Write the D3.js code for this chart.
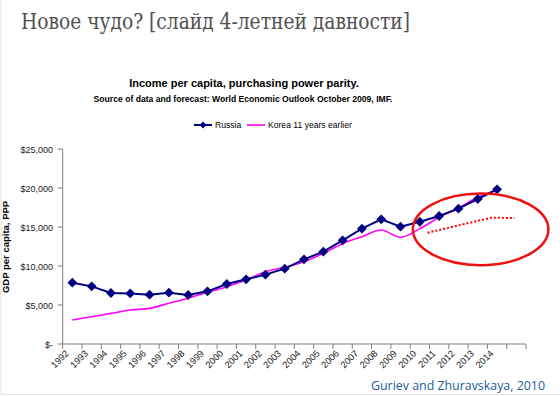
<!DOCTYPE html>
<meta charset="utf-8">
<style>

body {
  margin: 0;
  background-color: white;
  overflow: hidden;
}

text {
  font-family: Arial, "Liberation Sans", sans-serif;
}

</style>
<body>

<script src="https://cdn.jsdelivr.net/npm/d3@7"></script>
<script>

var years = [1992, 1993, 1994, 1995, 1996, 1997, 1998, 1999, 2000, 2001, 2002, 2003,
             2004, 2005, 2006, 2007, 2008, 2009, 2010, 2011, 2012, 2013, 2014];

var russia = [7860, 7390, 6540, 6490, 6330, 6580, 6280, 6750, 7690, 8290, 8890, 9660,
              10850, 11840, 13290, 14790, 15980, 15040, 15680, 16410, 17350, 18590, 19830];

var korea = [3080, 3500, 3930, 4360, 4570, 5220, 5860, 6630, 7350, 8200, 9270, 9830,
             10550, 11620, 12860, 13760, 14620, 13680, 14790, 16240, 17440, 18810, 19740];

// earlier forecast, hand-drawn dotted line (year position, value)
var oldForecast = [[2010.9, 14270], [2014.2, 16190], [2015.4, 16150]];

var yTicks = [0, 5000, 10000, 15000, 20000, 25000];

var width = 560,
    height = 396;

var svg = d3.select("body").append("svg")
    .attr("width", width)
    .attr("height", height);

// slide frame
svg.append("path")
    .attr("d", "M1,0V394.5H560")
    .attr("fill", "none")
    .attr("stroke", "#e4e4e4");

svg.append("text")
    .attr("x", 21)
    .attr("y", 29)
    .attr("font-size", 22.5)
    .attr("fill", "#505050")
    .style("font-family", "'DejaVu Serif', 'Liberation Serif', serif")
    .attr("textLength", 389)
    .attr("lengthAdjust", "spacingAndGlyphs")
    .text("Новое чудо? [слайд 4-летней давности]");

svg.append("text")
    .attr("x", 244)
    .attr("y", 87)
    .attr("text-anchor", "middle")
    .attr("font-size", 11)
    .attr("font-weight", "bold")
    .text("Income per capita, purchasing power parity.");

svg.append("text")
    .attr("x", 243)
    .attr("y", 102)
    .attr("text-anchor", "middle")
    .attr("font-size", 8.6)
    .attr("font-weight", "bold")
    .text("Source of data and forecast: World Economic Outlook October 2009, IMF.");

var x = d3.scaleLinear()
    .domain([1992, 2016])
    .range([62.7, 526]);

var y = d3.scaleLinear()
    .domain([0, 25000])
    .range([344, 149]);

var money = function(v) { return v === 0 ? "$-" : "$" + d3.format(",")(v); };

// y axis
var yAxis = svg.append("g");
yAxis.append("line")
    .attr("x1", x(1992)).attr("x2", x(1992))
    .attr("y1", y(0)).attr("y2", y(25000))
    .attr("stroke", "#808080");
yAxis.selectAll(".tick")
    .data(yTicks)
  .enter().append("line")
    .attr("x1", x(1992) - 5).attr("x2", x(1992))
    .attr("y1", y).attr("y2", y)
    .attr("stroke", "#808080");
yAxis.selectAll("text")
    .data(yTicks)
  .enter().append("text")
    .attr("x", 53)
    .attr("y", function(d) { return y(d) + 3.5; })
    .attr("text-anchor", "end")
    .attr("font-size", 9)
    .attr("fill", "#222")
    .text(money);

svg.append("text")
    .attr("transform", "translate(8.5," + y(12440) + ")rotate(-90)")
    .attr("text-anchor", "middle")
    .attr("font-size", 9.5)
    .attr("font-weight", "bold")
    .text("GDP per capita, PPP");

// x axis
var xAxis = svg.append("g");
xAxis.append("line")
    .attr("x1", x(1992)).attr("x2", x(2016))
    .attr("y1", y(0)).attr("y2", y(0))
    .attr("stroke", "#808080");
xAxis.selectAll(".tick")
    .data(d3.range(1992, 2017))
  .enter().append("line")
    .attr("x1", x).attr("x2", x)
    .attr("y1", y(0)).attr("y2", y(0) + 5)
    .attr("stroke", "#808080");
xAxis.selectAll("text")
    .data(years)
  .enter().append("text")
    .attr("transform", function(d) { return "translate(" + (x(d + 0.5) - 3) + "," + (y(0) + 10) + ")rotate(-45)"; })
    .attr("text-anchor", "end")
    .attr("font-size", 9.3)
    .attr("fill", "#222")
    .text(String);

// series
var koreaLine = d3.line()
    .x(function(d, i) { return x(years[i] + 0.5); })
    .y(function(d) { return y(d); })
    .curve(d3.curveCatmullRom);

svg.append("path")
    .attr("d", koreaLine(korea))
    .attr("fill", "none")
    .attr("stroke", "#ff00ff")
    .attr("stroke-width", 1.6);

var russiaLine = d3.line()
    .x(function(d, i) { return x(years[i] + 0.5); })
    .y(function(d) { return y(d); });

svg.append("path")
    .attr("d", russiaLine(russia))
    .attr("fill", "none")
    .attr("stroke", "#000080")
    .attr("stroke-width", 2);

var diamond = d3.symbol().type(d3.symbolDiamond2 || d3.symbolDiamond).size(62);

svg.selectAll(".marker")
    .data(russia)
  .enter().append("path")
    .attr("class", "marker")
    .attr("d", diamond)
    .attr("transform", function(d, i) { return "translate(" + x(years[i] + 0.5) + "," + y(d) + ")"; })
    .attr("fill", "#000080");

svg.append("path")
    .attr("d", d3.line()
        .x(function(d) { return x(d[0]); })
        .y(function(d) { return y(d[1]); })(oldForecast))
    .attr("fill", "none")
    .attr("stroke", "#ff0000")
    .attr("stroke-width", 2)
    .attr("stroke-dasharray", "2,2");

// annotation circle
svg.append("ellipse")
    .attr("cx", x(2013.65))
    .attr("cy", y(14700))
    .attr("rx", x(2013.65 + 3.51) - x(2013.65))
    .attr("ry", y(0) - y(4590))
    .attr("fill", "none")
    .attr("stroke", "#ee1111")
    .attr("stroke-width", 2.5);

// legend
var legend = svg.append("g");
legend.append("line")
    .attr("x1", 194).attr("x2", 212)
    .attr("y1", 125).attr("y2", 125)
    .attr("stroke", "#000080")
    .attr("stroke-width", 2);
legend.append("path")
    .attr("d", d3.symbol().type(d3.symbolDiamond2 || d3.symbolDiamond).size(30))
    .attr("transform", "translate(203,125)")
    .attr("fill", "#000080");
legend.append("text")
    .attr("x", 215).attr("y", 128)
    .attr("font-size", 8.6)
    .text("Russia");
legend.append("line")
    .attr("x1", 247).attr("x2", 265)
    .attr("y1", 125).attr("y2", 125)
    .attr("stroke", "#ff00ff")
    .attr("stroke-width", 1.6);
legend.append("text")
    .attr("x", 268).attr("y", 128)
    .attr("font-size", 8.6)
    .text("Korea 11 years earlier");

svg.append("text")
    .attr("x", 545)
    .attr("y", 390)
    .attr("text-anchor", "end")
    .attr("font-size", 12.5)
    .attr("fill", "#1f5a96")
    .style("font-family", "'Open Sans', 'Noto Sans', sans-serif")
    .attr("textLength", 174)
    .attr("lengthAdjust", "spacingAndGlyphs")
    .text("Guriev and Zhuravskaya, 2010");

</script>
